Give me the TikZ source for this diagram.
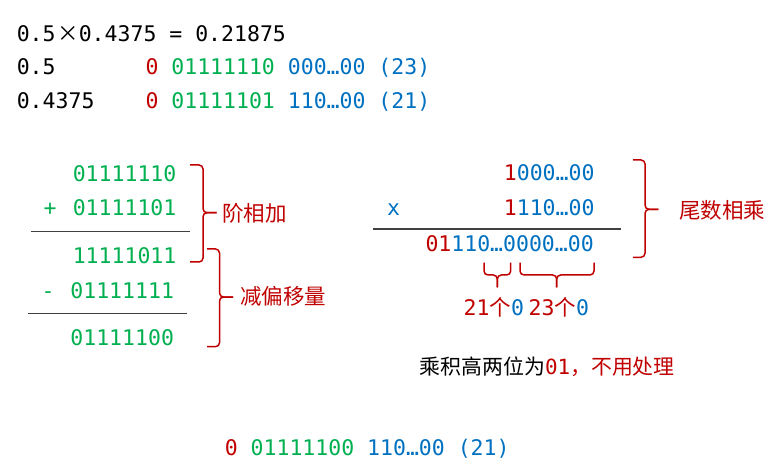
\documentclass[tikz,border=0pt]{standalone}
\usepackage{fontspec}
\setmonofont{DejaVu Sans Mono}
\newfontfamily\cjk{Noto Sans CJK SC}
\definecolor{myred}{RGB}{192,0,0}
\definecolor{mygreen}{RGB}{0,176,80}
\definecolor{myblue}{RGB}{0,112,192}
\newcommand{\rd}[1]{\textcolor{myred}{#1}}
\newcommand{\gr}[1]{\textcolor{mygreen}{#1}}
\newcommand{\bl}[1]{\textcolor{myblue}{#1}}
\begin{document}
\begin{tikzpicture}[x=1pt,y=-1pt,
  every node/.style={inner sep=0pt,font=\ttfamily\fontsize{21.5pt}{26pt}\selectfont},
  rule/.style={line width=1.2pt,black!75},
  brc/.style={line width=1.5pt,myred,rounded corners=4pt}]
\useasboundingbox (0,0) rectangle (776,470);
% the two factors
\node[anchor=base west] at (16.6,42) (h1) {0.5};
\node[anchor=base] at (68,42) (h2) {\cjk ×};
\node[anchor=base west] at (78.6,42) (h3) {0.4375 = 0.21875};
\node[anchor=base west] at (16.6,74.5) (a1) {0.5};
\node[anchor=base west] at (145.3,74.5) (a2) {\rd{0} \gr{01111110} \bl{000…00 (23)}};
\node[anchor=base west] at (16.6,109) (b1) {0.4375};
\node[anchor=base west] at (145.3,109) (b2) {\rd{0} \gr{01111101} \bl{110…00 (21)}};
% exponents
\node[anchor=base west,text=mygreen] at (72.6,181.5) (e1) {01111110};
\node[anchor=base,text=mygreen] at (50,215.7) (plus) {+};
\node[anchor=base west,text=mygreen] at (72.6,215.7) (e2) {01111101};
\node[anchor=base west,text=mygreen] at (72.6,263.3) (e3) {11111011};
\node[anchor=base,text=mygreen] at (48,298.3) (minus) {-};
\node[anchor=base west,text=mygreen] at (70.2,298.3) (e4) {01111111};
\node[anchor=base west,text=mygreen] at (70.2,345) (e5) {01111100};
\draw[rule] (31,231.7) -- (190,231.7);
\draw[rule] (28.3,313.3) -- (187.3,313.3);
\draw[brc] (190,165) -- (203,165) -- (203,212.7) -- (216.7,212.7);
\draw[brc] (190,262) -- (203,262) -- (203,212.7) -- (216.7,212.7);
\draw[brc] (207,249) -- (219.5,249) -- (219.5,297) -- (233,297);
\draw[brc] (207,346.7) -- (219.5,346.7) -- (219.5,297) -- (233,297);
\node[anchor=base west,text=myred] at (222,222) (s1) {\cjk 阶相加};
\node[anchor=base west,text=myred] at (240,305) (s2) {\cjk 减偏移量};
% mantissas
\node[anchor=base west] at (503.7,181) (m1) {\rd{1}\bl{000…00}};
\node[anchor=base,text=myblue] at (393.5,215.7) (times) {x};
\node[anchor=base west] at (503.7,215.7) (m2) {\rd{1}\bl{110…00}};
\draw[rule] (373.3,229) -- (621,229);
\node[anchor=base west] at (425.3,251.7) (m3) {\rd{01}\bl{110…0000…00}};
\draw[brc] (633,160) -- (645,160) -- (645,209.3) -- (658.3,209.3);
\draw[brc] (633,257.3) -- (645,257.3) -- (645,209.3) -- (658.3,209.3);
\node[anchor=base west,text=myred] at (679,219) (s3) {\cjk 尾数相乘};
\draw[brc] (484,262.7) -- (484,275) -- (497.3,275) -- (497.3,287.3);
\draw[brc] (510.7,262.7) -- (510.7,275) -- (497.3,275) -- (497.3,287.3);
\draw[brc] (520,262.7) -- (520,275) -- (556.7,275) -- (556.7,287.3);
\draw[brc] (594,262.7) -- (594,275) -- (556.7,275) -- (556.7,287.3);
\node[anchor=base west] at (463.5,315.5) (z1) {\rd{21{\cjk 个}}\bl{0}};
\node[anchor=base west] at (528.5,315.5) (z2) {\rd{23{\cjk 个}}\bl{0}};
\node[anchor=base west,font=\ttfamily\fontsize{20.9pt}{26pt}\selectfont] at (419.5,374) (note) {{\cjk 乘积高两位为}\rd{01{\cjk ，不用处理}}};
% result
\node[anchor=base west] at (224.6,455) (res) {\rd{0} \gr{01111100} \bl{110…00 (21)}};
\end{tikzpicture}
\end{document}
